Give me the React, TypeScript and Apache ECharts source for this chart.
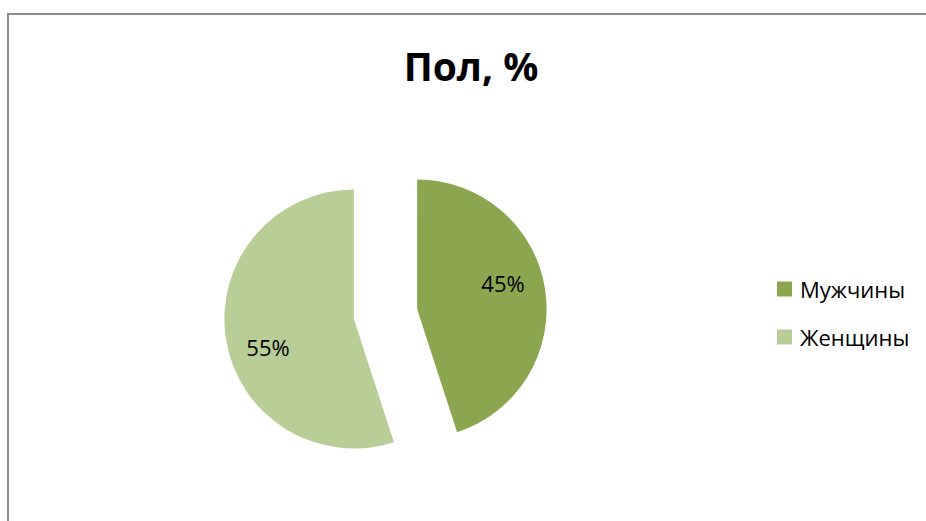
import React, { useEffect, useRef } from "react";
import * as echarts from "echarts";

const categories = ["Мужчины", "Женщины"];
const values = [45, 55];
const colors = ["#8ba64f", "#b9cd97"];
const titleText = "Пол, %";

export default function App() {
  const ref = useRef<HTMLDivElement>(null);
  useEffect(() => {
    if (!ref.current) return;
    document.body.style.margin = "0";
    document.documentElement.style.overflow = "hidden";
    document.body.style.overflow = "hidden";
    const chart = echarts.init(ref.current, null, { renderer: "svg" });
    const labelShift = [
      [19, -15],
      [-19, 17],
    ];
    chart.setOption({
      animation: false,
      backgroundColor: "#ffffff",
      title: {
        text: titleText,
        left: 471,
        top: 40,
        padding: 0,
        textAlign: "center",
        textStyle: {
          fontFamily: "Open Sans",
          fontWeight: "bold",
          fontSize: 39,
          lineHeight: 50,
          color: "#000000",
        },
      },
      legend: {
        orient: "vertical",
        left: 777,
        top: 277,
        padding: 0,
        itemWidth: 15,
        itemHeight: 15,
        itemGap: 24,
        icon: "rect",
        selectedMode: false,
        data: categories,
        textStyle: {
          fontFamily: "Open Sans",
          fontSize: 22,
          lineHeight: 24,
          color: "#000000",
          padding: [0, 0, 0, 3],
        },
      },
      graphic: [
        {
          type: "line",
          shape: { x1: 8, y1: 14, x2: 926, y2: 14 },
          style: { stroke: "#8a8a8a", lineWidth: 2 },
          silent: true,
        },
        {
          type: "line",
          shape: { x1: 8, y1: 13, x2: 8, y2: 521 },
          style: { stroke: "#8a8a8a", lineWidth: 2 },
          silent: true,
        },
      ],
      series: [
        {
          type: "pie",
          center: [385.5, 314],
          radius: 129.5,
          startAngle: 90,
          clockwise: true,
          selectedMode: "multiple",
          selectedOffset: 32,
          avoidLabelOverlap: false,
          emphasis: { disabled: true },
          labelLine: { show: false },
          label: {
            show: true,
            position: "inside",
            fontFamily: "Open Sans",
            fontSize: 22,
            color: "#000000",
            formatter: (p: any) => Math.round(p.percent) + "%",
          },
          labelLayout: (p: any) => ({
            dx: labelShift[p.dataIndex][0],
            dy: labelShift[p.dataIndex][1],
          }),
          data: categories.map((name, i) => ({
            name,
            value: values[i],
            selected: true,
            itemStyle: { color: colors[i] },
            select: { itemStyle: { color: colors[i] } },
          })),
        },
      ],
    });
    return () => chart.dispose();
  }, []);
  return (
    <div
      ref={ref}
      style={{ position: "fixed", left: 0, top: 0, width: 926, height: 521 }}
    />
  );
}
